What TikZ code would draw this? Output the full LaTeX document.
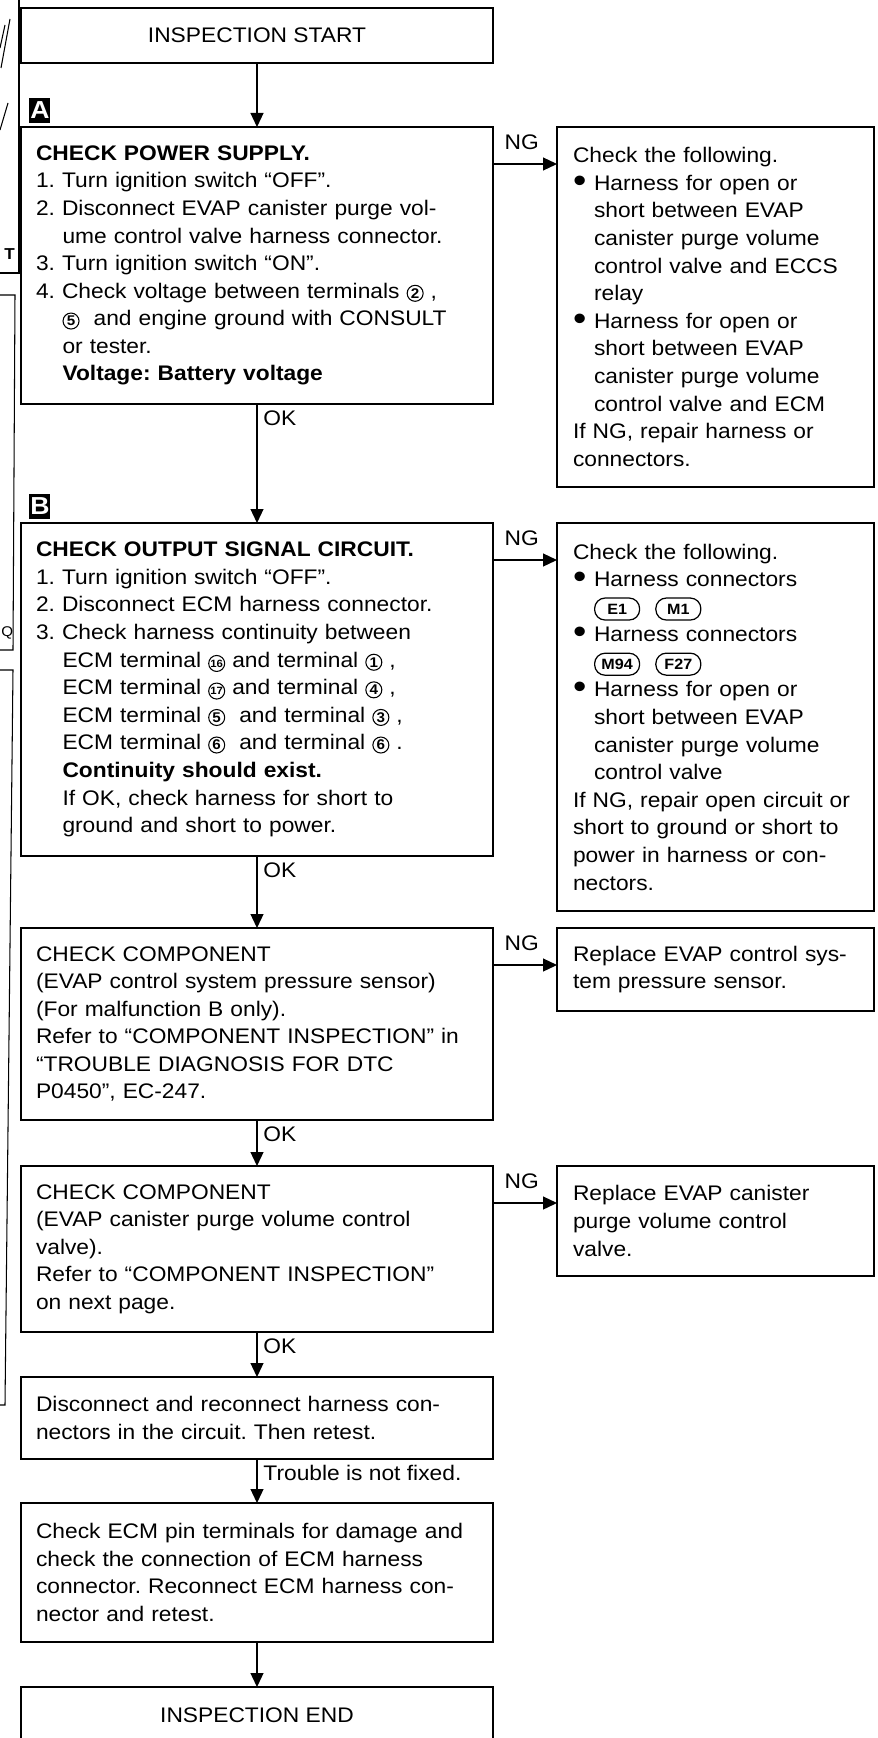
\documentclass[tikz,border=0pt]{standalone}
\usepackage{fontspec}
\setmainfont{Liberation Sans}[FakeStretch=1.08]
\usepackage{tikz}
\usetikzlibrary{arrows.meta,positioning}
\frenchspacing

\newcommand{\cnum}[2][8pt]{\tikz[baseline=(n.base)]\node[circle, draw, line width=0.6pt, inner sep=0pt,
  minimum size=0.32cm, text width={}, align=center, font=\fontsize{#1}{#1}\selectfont\bfseries] (n) {#2};}
\newcommand{\conn}[1]{\tikz[baseline=(n.base)]\node[draw, rounded corners=0.21cm, line width=0.7pt, inner sep=0pt,
  minimum width=0.9cm, minimum height=0.44cm, text width={}, align=center,
  font=\fontsize{8.5}{8.5}\selectfont\bfseries] (n) {#1};}
\newcommand{\bul}{\makebox[0.42cm][l]{\raisebox{-1pt}{\fontsize{20}{20}\selectfont•}}}
\newcommand{\ind}{\hspace*{0.42cm}}
\newcommand{\numind}{\hspace*{0.53cm}}

\begin{document}
\begin{tikzpicture}[
    font=\fontsize{12}{15.7}\selectfont,
    box/.style={rectangle, draw, line width=1pt, outer sep=0pt, align=left,
                text width=8.84cm, inner xsep=0.3cm, inner ysep=0.2cm},
    endbox/.style={rectangle, draw, line width=1pt, outer sep=0pt,
                minimum width=9.44cm, minimum height=1.1cm},
    sidebox/.style={box, text width=5.7cm, inner xsep=0.32cm},
    tag/.style={fill=black, text=white, inner sep=0pt, minimum width=0.42cm,
                minimum height=0.5cm, font=\fontsize{14}{14}\selectfont\bfseries},
    arrow/.style={-{Triangle[length=0.28cm, width=0.26cm]}, line width=0.7pt},
    scrap/.style={line width=0.6pt}
  ]
    \useasboundingbox (0,0) rectangle (17.54,-34.76);

    \node[endbox] (start) at (5.14,-0.71) {INSPECTION START};

    \node[box, minimum height=5.54cm, below=1.28cm of start] (pwr) {%
      {\bfseries CHECK POWER SUPPLY.}\\
      1. Turn ignition switch “OFF”.\\
      2. Disconnect EVAP canister purge vol-\\
      \numind ume control valve harness connector.\\
      3. Turn ignition switch “ON”.\\
      4. Check voltage between terminals \cnum{2} ,\\
      \numind\cnum{5}\ \ and engine ground with CONSULT\\
      \numind or tester.\\
      \numind{\bfseries Voltage: Battery voltage}};
    \node[tag, above right=0.08cm and 0.16cm of pwr.north west] (tagA) {A};

    \node[box, minimum height=6.66cm, below=2.38cm of pwr] (sig) {%
      {\bfseries CHECK OUTPUT SIGNAL CIRCUIT.}\\
      1. Turn ignition switch “OFF”.\\
      2. Disconnect ECM harness connector.\\
      3. Check harness continuity between\\
      \numind ECM terminal \cnum[6pt]{16} and terminal \cnum{1} ,\\
      \numind ECM terminal \cnum[6pt]{17} and terminal \cnum{4} ,\\
      \numind ECM terminal \cnum{5}\ \ and terminal \cnum{3} ,\\
      \numind ECM terminal \cnum{6}\ \ and terminal \cnum{6} .\\
      \numind{\bfseries Continuity should exist.}\\
      \numind If OK, check harness for short to\\
      \numind ground and short to power.};
    \node[tag, above right=0.08cm and 0.16cm of sig.north west] (tagB) {B};

    \node[box, minimum height=3.84cm, below=1.44cm of sig] (sensor) {%
      CHECK COMPONENT\\
      (EVAP control system pressure sensor)\\
      (For malfunction B only).\\
      Refer to “COMPONENT INSPECTION” in\\
      “TROUBLE DIAGNOSIS FOR DTC\\
      P0450”, EC-247.};

    \node[box, minimum height=3.32cm, below=0.92cm of sensor] (valve) {%
      CHECK COMPONENT\\
      (EVAP canister purge volume control\\
      valve).\\
      Refer to “COMPONENT INSPECTION”\\
      on next page.};

    \node[box, minimum height=1.64cm, below=0.9cm of valve] (recon) {%
      Disconnect and reconnect harness con-\\
      nectors in the circuit. Then retest.};

    \node[box, minimum height=2.78cm, below=0.88cm of recon] (pins) {%
      Check ECM pin terminals for damage and\\
      check the connection of ECM harness\\
      connector. Reconnect ECM harness con-\\
      nector and retest.};

    \node[endbox, minimum height=1.12cm, below=0.9cm of pins] (finish) {INSPECTION END};

    \node[sidebox, minimum height=7.2cm, right=1.28cm of pwr.north east, anchor=north west] (pwrng) {%
      Check the following.\\
      \bul Harness for open or\\
      \ind short between EVAP\\
      \ind canister purge volume\\
      \ind control valve and ECCS\\
      \ind relay\\
      \bul Harness for open or\\
      \ind short between EVAP\\
      \ind canister purge volume\\
      \ind control valve and ECM\\
      If NG, repair harness or\\
      connectors.};

    \node[sidebox, minimum height=7.76cm, right=1.28cm of sig.north east, anchor=north west] (signg) {%
      Check the following.\\
      \bul Harness connectors\\
      \ind\conn{E1}\hspace{0.3cm}\conn{M1}\\
      \bul Harness connectors\\
      \ind\conn{M94}\hspace{0.3cm}\conn{F27}\\
      \bul Harness for open or\\
      \ind short between EVAP\\
      \ind canister purge volume\\
      \ind control valve\\
      If NG, repair open circuit or\\
      short to ground or short to\\
      power in harness or con-\\
      nectors.};

    \node[sidebox, minimum height=1.66cm, right=1.28cm of sensor.north east, anchor=north west] (sensorng) {%
      Replace EVAP control sys-\\
      tem pressure sensor.};

    \node[sidebox, minimum height=2.2cm, right=1.28cm of valve.north east, anchor=north west] (valveng) {%
      Replace EVAP canister\\
      purge volume control\\
      valve.};

    \draw[arrow] (start) -- (pwr);
    \draw[arrow] (pwr) -- node[pos=0, below right]{OK} (sig);
    \draw[arrow] (sig) -- node[pos=0, below right]{OK} (sensor);
    \draw[arrow] (sensor) -- node[pos=0, below right]{OK} (valve);
    \draw[arrow] (valve) -- node[pos=0, below right]{OK} (recon);
    \draw[arrow] (recon) -- node[pos=0, below right]{Trouble is not fixed.} (pins);
    \draw[arrow] (pins) -- (finish);

    \draw[arrow] ([yshift=-0.74cm]pwr.north east) -- node[pos=0.45, above=0.15cm]{NG} ([yshift=-0.74cm]pwrng.north west);
    \draw[arrow] ([yshift=-0.74cm]sig.north east) -- node[pos=0.45, above=0.15cm]{NG} ([yshift=-0.74cm]signg.north west);
    \draw[arrow] ([yshift=-0.74cm]sensor.north east) -- node[pos=0.45, above=0.15cm]{NG} ([yshift=-0.74cm]sensorng.north west);
    \draw[arrow] ([yshift=-0.74cm]valve.north east) -- node[pos=0.45, above=0.15cm]{NG} ([yshift=-0.74cm]valveng.north west);

    \draw[scrap] (0.38,0) -- (0.38,-5.46) -- (0,-5.46);
    \draw[scrap] (0.02,-1.36) -- (0.2,-0.38);
    \draw[scrap] (0,-0.96) -- (0.1,-0.5);
    \draw[scrap] (0,-2.6) -- (0.16,-2.06);
    \node[anchor=west, inner sep=0pt, font=\fontsize{9}{9}\selectfont\bfseries] (fragT) at (0.08,-5.08) {T};
    \draw[scrap] (0,-5.9) -- (0.3,-5.9) -- (0.26,-13.0) -- (0,-13.0);
    \node[anchor=west, inner sep=0pt, font=\fontsize{8}{8}\selectfont] (fragQ) at (0.02,-12.66) {Q};
    \draw[scrap] (0,-13.4) -- (0.26,-13.4) -- (0.1,-28.1) -- (0,-28.1);
\end{tikzpicture}
\end{document}
